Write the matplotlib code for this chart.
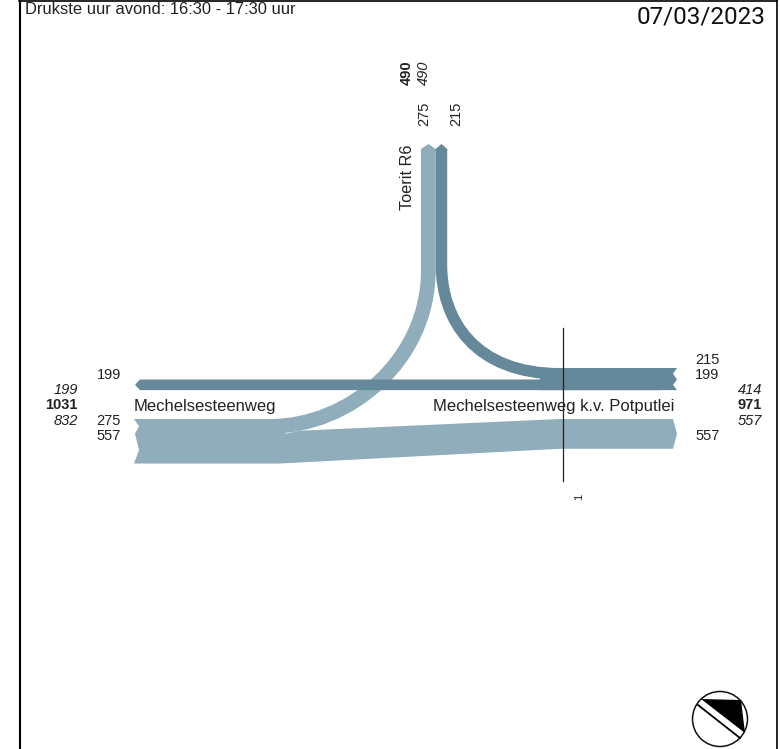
import matplotlib
matplotlib.use('Agg')
import matplotlib.pyplot as plt
from matplotlib.path import Path
from matplotlib.patches import PathPatch, Polygon, Circle

# traffic counts
north_in = 275
north_out = 215
east_straight = 199
east_from_north = 215
main_flow = 557

north_totals = [490, 490]
west_totals = [199, 1031, 832]
east_totals = [414, 971, 557]

LIGHT = '#8fadba'
DARK = '#66889b'
TEXT = '#222222'
SCALE = 0.0535  # pixels per vehicle
FONT = 'Liberation Sans'

plt.rcParams['font.family'] = [FONT, 'DejaVu Sans']

fig = plt.figure(figsize=(7.8, 7.49), dpi=100)
ax = fig.add_axes([0, 0, 1, 1])
ax.set_xlim(0, 780)
ax.set_ylim(749, 0)
ax.axis('off')


def curve(points, value, color, z=2):
    codes = [Path.MOVETO, Path.LINETO, Path.CURVE4, Path.CURVE4, Path.CURVE4, Path.LINETO]
    lw = value * SCALE * 0.72
    ax.add_patch(PathPatch(Path(points, codes), fc='none', ec=color, lw=lw,
                           capstyle='butt', joinstyle='round', zorder=z))


def label(x, y, s, ha='left', rot=0, size=10.5, **kw):
    ax.text(x, y, s, ha=ha, va='center', rotation=rot, fontsize=size, color=TEXT, **kw)


# lane widths from the counts
w_n_in = north_in * SCALE
w_n_out = north_out * SCALE
w_e = east_straight * SCALE
w_en = east_from_north * SCALE
w_m = main_flow * SCALE

x_n = 421
x_split = x_n + w_n_in
y_top = 149
y_dark = 368
y_split = y_dark + w_en
y_main_r = 419
y_main_l = y_main_r + w_n_in
y_low = y_main_l + w_m

# curved turning flows
curve([(x_n + w_n_in / 2, y_top), (x_n + w_n_in / 2, 270), (x_n + w_n_in / 2, 360),
       (350, y_main_r + w_n_in / 2), (270, y_main_r + w_n_in / 2), (200, y_main_r + w_n_in / 2)], north_in, LIGHT)
curve([(x_split + w_n_out / 2, y_top), (x_split + w_n_out / 2, 265), (x_split + w_n_out / 2, 320),
       (475, y_dark + w_en / 2), (560, y_dark + w_en / 2), (600, y_dark + w_en / 2)], north_out, DARK)

# north arm arrow tips
ax.add_patch(Polygon([(x_n, y_top), (x_n + w_n_in / 2, 144), (x_split, y_top), (x_split, y_top + 2), (x_n, y_top + 2)],
                     fc=LIGHT, ec='none', zorder=3))
ax.add_patch(Polygon([(x_split, y_top), (x_split + w_n_out / 2, 144), (x_split + w_n_out, y_top),
                      (x_split + w_n_out, y_top + 2), (x_split, y_top + 2)], fc=DARK, ec='none', zorder=3))

# straight dark lane, arrow on the west side
ax.add_patch(Polygon([(135, y_split + w_e / 2), (140, y_split), (660, y_split), (660, y_split + w_e), (140, y_split + w_e)],
                     fc=DARK, ec='none', zorder=2))

# east end of the dark lanes with notches
ax.add_patch(Polygon([(540, y_dark), (677, y_dark), (673, y_dark + w_en / 2), (677, y_split),
                      (673, y_split + w_e / 2), (677, y_split + w_e), (540, y_split + w_e)],
                     fc=DARK, ec='none', zorder=2))

# main lane, west end notched, slopes up towards the east
ax.add_patch(Polygon([(134, y_main_r), (139, y_main_r + w_n_in / 2), (135, y_main_l), (139, y_main_l + w_m * 0.55),
                      (134, y_low), (280, y_low), (560, y_main_r + w_m), (673, y_main_r + w_m),
                      (677, y_main_r + w_m / 2), (673, y_main_r), (560, y_main_r), (300, y_main_l - 3),
                      (285, y_main_l), (285, y_main_r)],
                     fc=LIGHT, ec='none', zorder=2))

# counting section
ax.plot([562.5, 562.5], [328, 481], color='#222222', lw=0.9, zorder=4)
label(579, 497, '1', ha='center', rot=90, size=8)

# street names
label(134, 407, 'Mechelsesteenweg', size=12, zorder=5)
label(433, 407, 'Mechelsesteenweg k.v. Potputlei', size=12, zorder=5)
label(407.5, 177.5, 'Toerit R6', ha='center', rot=90, size=11.7)

# west labels
label(121, 375, str(east_straight), ha='right')
label(78, 390, str(west_totals[0]), ha='right', style='italic')
label(78, 405, str(west_totals[1]), ha='right', weight='bold')
label(78, 421, str(west_totals[2]), ha='right', style='italic')
label(121, 421, str(north_in), ha='right')
label(121, 436, str(main_flow), ha='right')

# east labels
label(695, 360, str(east_from_north))
label(695, 375, str(east_straight))
label(738, 390, str(east_totals[0]), style='italic')
label(738, 405, str(east_totals[1]), weight='bold')
label(738, 421, str(east_totals[2]), style='italic')
label(695, 436, str(main_flow))

# north labels
label(406.5, 72.5, str(north_totals[0]), ha='center', rot=90, weight='bold')
label(424, 72.5, str(north_totals[1]), ha='center', rot=90, style='italic')
label(424, 114, str(north_in), ha='center', rot=90)
label(456, 114, str(north_out), ha='center', rot=90)

# header
ax.text(25, 10, 'Drukste uur avond: 16:30 - 17:30 uur', fontsize=11.9, color=TEXT, va='center')
ax.text(765, 17, '07/03/2023', fontsize=17.5, color='#111111', ha='right', va='center', family='Roboto')

# frame
ax.plot([19.5, 19.5], [0, 749], color='black', lw=1.5, zorder=6)
ax.plot([776.5, 776.5], [0, 749], color='black', lw=1.2, zorder=6)
ax.plot([19, 777], [0.5, 0.5], color='black', lw=1.2, zorder=6)

# north arrow
ax.add_patch(Circle((720, 719), 27.5, fc='white', ec='#111111', lw=1.1, zorder=3))
ax.add_patch(Polygon([(701, 699), (741, 700), (745, 733)], fc='black', ec='none', zorder=4))
ax.plot([698, 740], [705, 738], color='black', lw=1.3, zorder=4)

fig.savefig('out.png', dpi=100)
